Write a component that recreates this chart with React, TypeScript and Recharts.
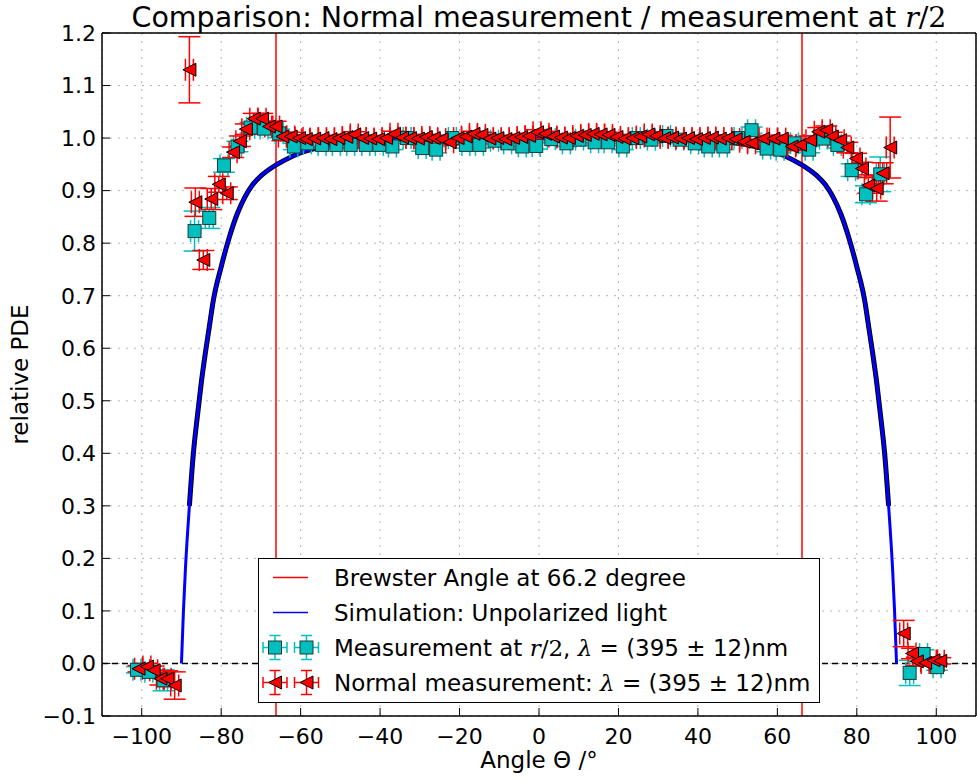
import React from 'react';
import {
  ComposedChart,
  Scatter,
  Line,
  XAxis,
  YAxis,
  CartesianGrid,
  ReferenceLine,
  ErrorBar,
  Legend,
  Label,
} from 'recharts';

const FONT = '"DejaVu Sans", "Bitstream Vera Sans", sans-serif';
const MATH = '"DejaVu Serif", serif';

const X_TICKS = [-100, -80, -60, -40, -20, 0, 20, 40, 60, 80, 100];
const Y_TICKS = [-0.1, 0, 0.1, 0.2, 0.3, 0.4, 0.5, 0.6, 0.7, 0.8, 0.9, 1.0, 1.1, 1.2];
const BREWSTER_ANGLES = [-66.2, 66.2];

// simulation: unpolarized light
const SIM_X = [
  -90, -89.5, -89, -88, -87, -86, -85, -84, -83, -82, -80, -78, -76, -74, -72, -70, -67, -64, -60, -55,
  -50, -45, -40, -30, -20, -10, 0, 10, 20, 30, 40, 45, 50, 55, 60, 64, 67, 70, 72, 74, 76, 78, 80, 82,
  83, 84, 85, 86, 87, 88, 89, 89.5, 90,
];
const SIM_Y = [
  0, 0.1, 0.18, 0.3, 0.4, 0.47, 0.535, 0.59, 0.64, 0.69, 0.755, 0.81, 0.855, 0.888, 0.912, 0.928, 0.945,
  0.958, 0.972, 0.983, 0.99, 0.994, 0.997, 0.999, 1.0, 1.0, 1.0, 1.0, 1.0, 0.999, 0.997, 0.994, 0.99,
  0.983, 0.972, 0.958, 0.945, 0.928, 0.912, 0.888, 0.855, 0.81, 0.755, 0.69, 0.64, 0.59, 0.535, 0.47,
  0.4, 0.3, 0.18, 0.1, 0,
];

// measurement at r/2
const R2_X = [
  -101.2, -98.2, -94.5, -86.7, -83.0, -79.3, -75.9, -72.6, -69.2, -65.4, -61.7, -58.3, -54.6, -51.0,
  -47.4, -43.6, -40.2, -36.9, -33.2, -29.4, -25.9, -21.8, -18.4, -15.0, -11.2, -7.9, -4.2, -0.7, 3.1,
  6.9, 10.2, 14.0, 17.4, 21.1, 24.5, 28.3, 32.1, 35.4, 39.2, 42.6, 46.4, 50.1, 53.5, 57.3, 60.7, 64.3,
  68.0, 71.6, 75.1, 78.7, 82.3, 85.9, 93.3, 96.8, 100.2,
];
const R2_Y = [
  -0.012, -0.016, -0.032, 0.823, 0.848, 0.948, 0.984, 1.02, 1.018, 1.009, 0.984, 0.99, 0.987, 0.987,
  0.987, 0.987, 0.987, 0.984, 1.0, 0.981, 0.978, 1.0, 0.987, 0.987, 0.995, 0.99, 0.984, 0.985, 0.998,
  0.99, 0.997, 0.992, 0.992, 0.984, 1.0, 0.997, 1.004, 0.997, 0.99, 0.984, 0.984, 1.0, 1.015, 0.98,
  0.978, 0.99, 0.978, 0.999, 0.987, 0.939, 0.893, 0.931, -0.018, 0.018, -0.007,
];
const R2_YERR = [
  0.006, 0.008, 0.02, 0.038, 0.02, 0.013, 0.01, 0.01, 0.008, 0.008,
  0.006, 0.006, 0.006, 0.006, 0.006, 0.006, 0.006, 0.006, 0.006, 0.006,
  0.006, 0.006, 0.006, 0.006, 0.006, 0.006, 0.006, 0.006, 0.006, 0.006,
  0.006, 0.006, 0.006, 0.006, 0.006, 0.006, 0.006, 0.006, 0.006, 0.006,
  0.006, 0.006, 0.006, 0.006, 0.006, 0.006, 0.006, 0.006, 0.006,
  0.012, 0.016, 0.033, 0.024, 0.008, 0.006,
];

// normal measurement
const NORM_X = [
  -100.8, -98.7, -97.0, -95.3, -93.6, -91.7, -88.0, -86.5, -84.5, -82.5, -80.6, -78.6, -77.0, -75.3,
  -73.8, -71.8, -69.7, -68.0, -66.3, -64.6, -62.5, -60.4, -58.7, -56.6,
  -54.5, -52.5, -50.5, -48.5, -46.5, -44.5, -42.5, -40.5, -38.5, -36.5, -34.5, -32.5, -30.5, -28.5,
  -26.5, -24.5, -22.5, -20.5, -18.5, -16.5, -14.5, -12.5, -10.5, -8.5, -6.5, -4.5, -2.5, -0.5, 1.5,
  3.5, 5.5, 7.5, 9.5, 11.5, 13.5, 15.5, 17.5, 19.5, 21.5, 23.5, 25.5, 27.5, 29.5, 31.5, 33.5, 35.5,
  37.5, 39.5, 41.5, 43.5, 45.5, 47.5, 49.5, 51.5, 53.5,
  56.4, 59.0, 61.1, 63.6, 65.7, 68.2, 70.3, 72.3, 73.7, 75.8, 77.6, 79.8, 81.3, 82.9, 85.0, 86.5, 88.4,
  91.8, 93.9, 95.1, 97.2, 99.3, 101.0,
];
const NORM_Y = [
  -0.01, -0.006, -0.013, -0.029, -0.029, -0.042, 1.13, 0.878, 0.768, 0.884, 0.912, 0.895, 0.973, 0.994,
  1.017, 1.037, 1.037, 1.022, 1.022, 1.003, 1.003, 1.0, 0.998, 0.999,
  1.0, 0.998, 1.0, 1.002, 1.007, 1.0, 0.999, 0.998, 1.0, 1.008, 1.001, 1.0, 0.999, 1.002,
  1.0, 0.998, 0.992, 1.0, 1.003, 1.008, 1.006, 0.999, 1.0, 0.998, 1.0, 1.002, 1.004, 1.011, 1.008,
  1.003, 1.001, 1.0, 1.004, 1.006, 1.008, 1.007, 1.006, 1.002, 0.999, 1.0, 1.003, 1.007, 1.004, 1.0,
  1.001, 0.999, 1.0, 0.998, 1.0, 1.001, 0.999, 1.0, 0.998, 0.993, 0.99,
  0.999, 0.999, 0.999, 0.984, 0.987, 0.996, 1.012, 1.015, 1.003, 0.996, 0.982, 0.961, 0.942, 0.91,
  0.904, 0.933, 0.982, 0.057, 0.019, 0.004, 0.001, 0.006, 0.005,
];
const NORM_YERR = [
  0.006, 0.006, 0.008, 0.012, 0.015, 0.026, 0.063, 0.027, 0.018, 0.02, 0.015, 0.012, 0.01, 0.01,
  0.01, 0.01, 0.01, 0.01, 0.01, 0.008, 0.008, 0.006, 0.006, 0.006,
  0.005, 0.005, 0.005, 0.005, 0.005, 0.005, 0.005, 0.005, 0.005, 0.005, 0.005,
  0.005, 0.005, 0.005, 0.005, 0.005, 0.005, 0.005, 0.005, 0.005, 0.005,
  0.005, 0.005, 0.005, 0.005, 0.005, 0.005, 0.005, 0.005, 0.005, 0.005,
  0.005, 0.005, 0.005, 0.005, 0.005, 0.005, 0.005, 0.005, 0.005, 0.005,
  0.005, 0.005, 0.005, 0.005, 0.005, 0.005, 0.005, 0.005, 0.005, 0.005,
  0.005, 0.005, 0.005, 0.005,
  0.006, 0.006, 0.006, 0.008, 0.008, 0.008, 0.008, 0.008, 0.008, 0.008, 0.01, 0.01, 0.012, 0.015,
  0.024, 0.02, 0.058, 0.025, 0.01, 0.008, 0.006, 0.006, 0.006,
];
const ANGLE_ERR = 1.0;

const simData = SIM_X.map((x, i) => ({
  x,
  y: SIM_Y[i],
  edge: SIM_Y[i] >= 0.3 ? SIM_Y[i] : null,
}));
const r2Data = R2_X.map((x, i) => ({ x, y: R2_Y[i], ey: R2_YERR[i], ex: ANGLE_ERR }));
const normData = NORM_X.map((x, i) => ({ x, y: NORM_Y[i], ey: NORM_YERR[i], ex: ANGLE_ERR }));

const CYAN = '#00bfbf';
const RED = '#ff0000';

function fmtX(v: number) {
  return v < 0 ? `\u2212${Math.abs(v)}` : `${v}`;
}
function fmtY(v: number) {
  return (v < -1e-9 ? '\u2212' : '') + Math.abs(v).toFixed(1);
}

function SquareMarker(props: any) {
  const { cx, cy } = props;
  if (cx == null || cy == null) return null;
  return (
    <rect x={cx - 6.5} y={cy - 6.5} width={13} height={13} fill={CYAN} stroke="#1e3a3a" strokeWidth={1} />
  );
}

function TriangleMarker(props: any) {
  const { cx, cy } = props;
  if (cx == null || cy == null) return null;
  const s = 6.5;
  return (
    <polygon
      points={`${cx - s},${cy} ${cx + s},${cy - s} ${cx + s},${cy + s}`}
      fill={RED}
      stroke="#000"
      strokeWidth={1}
    />
  );
}

function LegendMarker({ color, kind }: { color: string; kind: 'square' | 'triangle' }) {
  return (
    <svg width={75} height={35} style={{ display: 'block' }}>
      {[16, 47.5].map((cx) => (
        <g key={cx} stroke={color} strokeWidth={1.5}>
          <line x1={cx - 12} x2={cx + 12} y1={17.5} y2={17.5} />
          <line x1={cx - 12} x2={cx - 12} y1={12} y2={23} />
          <line x1={cx + 12} x2={cx + 12} y1={12} y2={23} />
          <line x1={cx} x2={cx} y1={5.5} y2={29.5} />
          <line x1={cx - 5.5} x2={cx + 5.5} y1={5.5} y2={5.5} />
          <line x1={cx - 5.5} x2={cx + 5.5} y1={29.5} y2={29.5} />
          {kind === 'square' ? (
            <rect x={cx - 6.5} y={11} width={13} height={13} fill={CYAN} stroke="#1e3a3a" strokeWidth={1} />
          ) : (
            <polygon
              points={`${cx - 6.5},17.5 ${cx + 6.5},11 ${cx + 6.5},24`}
              fill={RED}
              stroke="#000"
              strokeWidth={1}
            />
          )}
        </g>
      ))}
    </svg>
  );
}

function LegendBox() {
  const row: React.CSSProperties = { display: 'flex', alignItems: 'center', height: 35, whiteSpace: 'nowrap' };
  const lineSample = (color: string) => (
    <svg width={75} height={35} style={{ display: 'block' }}>
      <line x1={14} x2={49} y1={17.5} y2={17.5} stroke={color} strokeWidth={1.5} />
    </svg>
  );
  return (
    <div
      style={{
        width: 562,
        height: 145,
        boxSizing: 'border-box',
        border: '1.5px solid #000',
        background: '#fff',
        fontFamily: FONT,
        fontSize: 23,
        color: '#000',
        paddingTop: 1,
      }}
    >
      <div style={row}>
        {lineSample(RED)}
        <span>Brewster Angle at 66.2 degree</span>
      </div>
      <div style={row}>
        {lineSample('#0000ff')}
        <span>Simulation: Unpolarized light</span>
      </div>
      <div style={row}>
        <LegendMarker color={CYAN} kind="square" />
        <span>
          Measurement at <i style={{ fontFamily: MATH }}>r</i>
          <span style={{ fontFamily: MATH }}>/2</span>, <i style={{ fontFamily: MATH }}>λ</i> = (395 ± 12)nm
        </span>
      </div>
      <div style={row}>
        <LegendMarker color={RED} kind="triangle" />
        <span>
          Normal measurement: <i style={{ fontFamily: MATH }}>λ</i> = (395 ± 12)nm
        </span>
      </div>
    </div>
  );
}

export default function App() {
  const tickStyle = { fill: '#000', fontSize: 22, fontFamily: FONT };
  const axisLine = { stroke: '#000', strokeWidth: 1.5 };
  return (
    <div style={{ position: 'absolute', left: 0, top: 0, width: 977, height: 781, background: '#fff' }}>
      <ComposedChart width={977} height={781} margin={{ top: 32, right: 0, bottom: 35, left: 0 }}>
        <CartesianGrid stroke="#b4b4b4" strokeDasharray="2 6" />
        <XAxis
          dataKey="x"
          type="number"
          domain={[-110, 110]}
          allowDataOverflow
          ticks={X_TICKS}
          tickFormatter={fmtX}
          tickSize={-8}
          tickMargin={20}
          height={30}
          axisLine={axisLine}
          tickLine={{ stroke: '#000' }}
          tick={tickStyle}
        >
          <Label
            value="Angle Θ /°"
            position="bottom"
            offset={6}
            style={{ fontSize: 23, fontFamily: FONT, fill: '#000' }}
          />
        </XAxis>
        <XAxis
          xAxisId="top"
          orientation="top"
          type="number"
          domain={[-110, 110]}
          allowDataOverflow
          ticks={X_TICKS}
          tick={false}
          tickSize={-8}
          height={1}
          axisLine={axisLine}
          tickLine={{ stroke: '#000' }}
        />
        <YAxis
          dataKey="y"
          type="number"
          domain={[-0.1, 1.2]}
          allowDataOverflow
          ticks={Y_TICKS}
          tickFormatter={fmtY}
          tickSize={-8}
          tickMargin={14}
          width={102}
          axisLine={axisLine}
          tickLine={{ stroke: '#000' }}
          tick={tickStyle}
        >
          <Label
            value="relative PDE"
            angle={-90}
            position="insideLeft"
            offset={20}
            style={{ fontSize: 23, fontFamily: FONT, fill: '#000', textAnchor: 'middle' }}
          />
        </YAxis>
        <YAxis
          yAxisId="right"
          orientation="right"
          type="number"
          domain={[-0.1, 1.2]}
          allowDataOverflow
          ticks={Y_TICKS}
          tick={false}
          tickSize={-8}
          width={1}
          axisLine={axisLine}
          tickLine={{ stroke: '#000' }}
        />
        <ReferenceLine y={0} stroke="#000" strokeWidth={1.5} strokeDasharray="6 4" />
        {BREWSTER_ANGLES.map((a) => (
          <ReferenceLine key={a} x={a} stroke={RED} strokeWidth={1.5} />
        ))}
        <Line
          data={simData}
          dataKey="edge"
          type="monotone"
          stroke="#000"
          strokeWidth={5}
          dot={false}
          activeDot={false}
          isAnimationActive={false}
          legendType="none"
        />
        <Line
          data={simData}
          dataKey="y"
          type="monotone"
          stroke="#0000ff"
          strokeWidth={3}
          dot={false}
          activeDot={false}
          isAnimationActive={false}
        />
        <Scatter data={r2Data} dataKey="y" shape={SquareMarker} isAnimationActive={false}>
          <ErrorBar dataKey="ex" direction="x" width={11} stroke={CYAN} strokeWidth={1.5} />
          <ErrorBar dataKey="ey" direction="y" width={11} stroke={CYAN} strokeWidth={1.5} />
        </Scatter>
        <Scatter data={normData} dataKey="y" shape={TriangleMarker} isAnimationActive={false}>
          <ErrorBar dataKey="ex" direction="x" width={11} stroke={RED} strokeWidth={1.5} />
          <ErrorBar dataKey="ey" direction="y" width={11} stroke={RED} strokeWidth={1.5} />
        </Scatter>
        <Legend
          layout="horizontal"
          verticalAlign="middle"
          align="center"
          content={<LegendBox />}
          wrapperStyle={{ left: 258, top: 558, width: 562, height: 145 }}
        />
      </ComposedChart>
      <div
        style={{
          position: 'absolute',
          left: 102,
          top: 4,
          width: 874,
          textAlign: 'center',
          fontFamily: FONT,
          fontSize: 28.5,
          lineHeight: '28px',
          color: '#000',
          whiteSpace: 'nowrap',
        }}
      >
        Comparison: Normal measurement / measurement at <i style={{ fontFamily: MATH }}>r</i>
        <span style={{ fontFamily: MATH }}>/2</span>
      </div>
    </div>
  );
}
